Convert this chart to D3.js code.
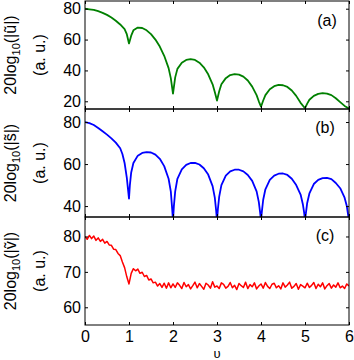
<!DOCTYPE html>
<html>
<head>
<meta charset="utf-8">
<script src="https://cdn.jsdelivr.net/npm/d3@7"></script>
<style>
  body { margin: 0; background: #fff; }
  text { font-family: "Liberation Sans", Arial, sans-serif; }
</style>
</head>
<body>
<div id="chart"></div>
<script>
// panel (a): [nu, 20log10|u~|]
const uData = [
  [0, 80.0], [0.1, 79.6], [0.2, 79.2], [0.3, 78.4], [0.4, 77.3], [0.5, 76.0], [0.6, 74.3],
  [0.7, 72.2], [0.8, 69.8], [0.9, 66.8], [0.95, 63.5], [1.0, 57.5], [1.05, 62.5], [1.1, 66.0],
  [1.2, 67.8], [1.3, 67.5], [1.4, 66.0], [1.5, 63.5], [1.6, 60.0], [1.7, 55.5], [1.8, 49.5],
  [1.9, 41.5], [1.95, 35.0], [2.0, 25.0], [2.05, 35.5], [2.1, 41.0], [2.2, 45.0], [2.3, 46.8],
  [2.4, 47.3], [2.5, 46.8], [2.6, 45.0], [2.7, 42.0], [2.8, 37.5], [2.9, 31.0], [2.95, 26.0],
  [3.0, 20.5], [3.05, 26.5], [3.1, 31.0], [3.2, 35.0], [3.3, 37.0], [3.4, 37.6], [3.5, 37.3],
  [3.6, 36.0], [3.7, 33.5], [3.8, 29.5], [3.9, 24.0], [3.95, 20.0], [4.0, 16.5], [4.05, 20.5],
  [4.1, 24.0], [4.2, 27.8], [4.3, 29.8], [4.4, 30.6], [4.5, 30.4], [4.6, 29.3], [4.7, 27.0],
  [4.8, 23.5], [4.9, 19.0], [5.0, 15.5], [5.05, 18.5], [5.1, 21.0], [5.2, 23.5], [5.3, 24.8],
  [5.4, 25.3], [5.5, 25.0], [5.6, 24.0], [5.7, 22.0], [5.8, 19.5], [5.9, 17.0], [6.0, 15.3]
];

// panel (b): [nu, 20log10|s~|]
const sData = [
  [0, 80.0], [0.1, 79.5], [0.2, 78.6], [0.3, 77.2], [0.4, 75.6], [0.5, 74.0], [0.6, 72.2],
  [0.7, 70.2], [0.8, 67.5], [0.85, 64.8], [0.9, 60.5], [0.95, 53.5], [0.98, 47.5], [1.0, 43.5],
  [1.02, 50.0], [1.05, 56.0], [1.1, 60.5], [1.2, 64.0], [1.3, 65.3], [1.4, 65.7], [1.5, 65.5],
  [1.6, 64.5], [1.7, 62.5], [1.8, 59.0], [1.9, 53.0], [1.95, 47.0], [1.98, 39.0], [2.0, 33.0],
  [2.02, 40.0], [2.05, 47.0], [2.1, 53.0], [2.2, 57.5], [2.3, 59.6], [2.4, 60.5], [2.5, 60.6],
  [2.6, 59.8], [2.7, 58.0], [2.8, 55.0], [2.9, 49.5], [2.95, 44.0], [2.98, 38.0], [3.0, 33.0],
  [3.02, 38.5], [3.05, 44.5], [3.1, 50.0], [3.2, 54.5], [3.3, 56.5], [3.4, 57.3], [3.5, 57.3],
  [3.6, 56.5], [3.7, 54.8], [3.8, 52.0], [3.9, 47.0], [3.95, 42.0], [3.98, 37.0], [4.0, 33.0],
  [4.02, 37.5], [4.05, 43.0], [4.1, 48.0], [4.2, 52.5], [4.3, 54.5], [4.4, 55.4], [4.5, 55.5],
  [4.6, 54.8], [4.7, 53.0], [4.8, 50.0], [4.9, 45.5], [4.95, 41.0], [4.98, 37.0], [5.0, 33.0],
  [5.02, 36.5], [5.05, 41.5], [5.1, 46.0], [5.2, 50.5], [5.3, 52.5], [5.4, 53.3], [5.5, 53.4],
  [5.6, 52.8], [5.7, 51.0], [5.8, 48.5], [5.9, 44.0], [5.95, 40.0], [6.0, 33.0]
];

// panel (c): 20log10|v~| sampled every 0.05 in nu
const vStep = 0.05;
const vValues = [
  80.0, 79.2, 80.3, 79.4, 80.1, 78.9, 79.6, 78.6, 79.2, 78.1, 78.6, 77.6, 77.5, 76.4, 76.3,
  75.2, 74.6, 72.8, 71.2, 68.6, 66.6, 69.6, 70.9, 70.3, 70.8, 69.6, 69.9, 68.7, 69.0, 67.7,
  68.0, 66.9, 67.1, 66.0, 66.7, 65.6, 66.8, 65.4, 66.9, 65.5, 66.6,
  65.6, 66.9, 66.2, 65.3, 67.0, 65.8, 66.4, 65.2, 66.1, 67.1, 65.5, 66.7, 65.9, 65.1, 66.8, 66.3, 65.4, 67.2, 65.7, 66.0,
  65.3, 66.9, 66.5, 65.4, 65.9, 67.0, 65.5, 66.2, 65.0, 66.7, 66.1, 65.6, 67.1, 65.3, 66.4, 65.8, 66.9, 65.2, 66.0, 66.6,
  65.4, 67.0, 65.9, 65.3, 66.5, 66.8, 65.5, 66.1, 65.2, 66.9, 65.7, 66.3, 67.1, 65.4, 65.9, 66.7, 65.1, 66.4, 66.0, 65.5,
  66.8, 65.6, 66.2, 67.0, 65.3, 66.5, 65.8, 66.9, 65.2, 66.1, 66.7, 65.4, 66.3, 65.7, 66.9, 65.5, 66.0, 65.3, 66.6, 66.0
];

const xTicks = [0, 1, 2, 3, 4, 5, 6];

const panels = [
  { id: "a", tag: "(a)", sym: "ũ", color: "#008000", data: uData,
    domain: [15, 85], ticks: [20, 40, 60, 80], top: 1, bottom: 109, tagX: 327, tagY: 26 },
  { id: "b", tag: "(b)", sym: "s\u0303", color: "#0000ff", data: sData,
    domain: [34.8, 86.2], ticks: [40, 60, 80], top: 109, bottom: 217, tagX: 325, tagY: 133 },
  { id: "c", tag: "(c)", sym: "ṽ", color: "#ff0000",
    data: vValues.map((v, i) => [i * vStep, v]),
    domain: [55, 85.5], ticks: [60, 70, 80], top: 217, bottom: 325, tagX: 325, tagY: 241 }
];

const W = 354, H = 360;
const left = 85, right = 349;

const svg = d3.select("#chart").append("svg")
  .attr("width", W)
  .attr("height", H);

const x = d3.scaleLinear().domain([0, 6]).range([left, right]);

panels.forEach((p, k) => {
  const y = d3.scaleLinear().domain(p.domain).range([p.bottom, p.top]);
  const g = svg.append("g");

  g.append("clipPath").attr("id", "clip-" + p.id)
    .append("rect")
    .attr("x", left).attr("y", p.top)
    .attr("width", right - left).attr("height", p.bottom - p.top);

  const line = d3.line()
    .x(d => x(d[0]))
    .y(d => y(d[1]));

  g.append("path")
    .datum(p.data)
    .attr("clip-path", `url(#clip-${p.id})`)
    .attr("fill", "none")
    .attr("stroke", p.color)
    .attr("stroke-width", p.id === "c" ? 1.5 : 1.8)
    .attr("stroke-linejoin", "round")
    .attr("d", line);

  // inward ticks on all four sides
  const yl = g.append("g").attr("transform", `translate(${left},0)`)
    .call(d3.axisLeft(y).tickValues(p.ticks).tickSizeInner(-3).tickSizeOuter(0).tickPadding(4));
  const yr = g.append("g").attr("transform", `translate(${right},0)`)
    .call(d3.axisRight(y).tickValues(p.ticks).tickSizeInner(-3).tickSizeOuter(0).tickFormat(""));
  const xt = g.append("g").attr("transform", `translate(0,${p.top})`)
    .call(d3.axisTop(x).tickValues(xTicks).tickSizeInner(-3).tickSizeOuter(0).tickFormat(""));
  const xb = g.append("g").attr("transform", `translate(0,${p.bottom})`)
    .call(d3.axisBottom(x).tickValues(xTicks).tickSizeInner(-3).tickSizeOuter(0).tickPadding(6)
      .tickFormat(k === panels.length - 1 ? d3.format("d") : ""));

  [yl, yr, xt, xb].forEach(a => {
    a.select(".domain").remove();
    a.selectAll("text").attr("font-size", 16).attr("fill", "#000")
      .attr("font-family", "'Liberation Sans', Arial, sans-serif");
    a.selectAll("line").attr("stroke", "#000");
  });

  g.append("rect")
    .attr("x", left).attr("y", p.top)
    .attr("width", right - left).attr("height", p.bottom - p.top)
    .attr("fill", "none").attr("stroke", "#000").attr("stroke-width", 1);

  g.append("text")
    .attr("x", p.tagX).attr("y", p.tagY)
    .attr("text-anchor", "middle")
    .attr("font-size", 16)
    .text(p.tag);

  // y label, two rotated lines
  const cy = (p.top + p.bottom) / 2;
  const lab = g.append("text")
    .attr("transform", `translate(16,${cy}) rotate(-90)`)
    .attr("text-anchor", "middle")
    .attr("font-size", 16);
  lab.append("tspan").text("20log");
  lab.append("tspan").attr("font-size", 11).attr("dy", 4).text("10");
  lab.append("tspan").attr("dy", -4).text(`(|${p.sym}|)`);

  g.append("text")
    .attr("transform", `translate(45,${cy}) rotate(-90)`)
    .attr("text-anchor", "middle")
    .attr("font-size", 16)
    .text("(a. u.)");
});

svg.append("text")
  .attr("x", x(3))
  .attr("y", 358)
  .attr("text-anchor", "middle")
  .attr("font-size", 13)
  .text("υ");
</script>
</body>
</html>
